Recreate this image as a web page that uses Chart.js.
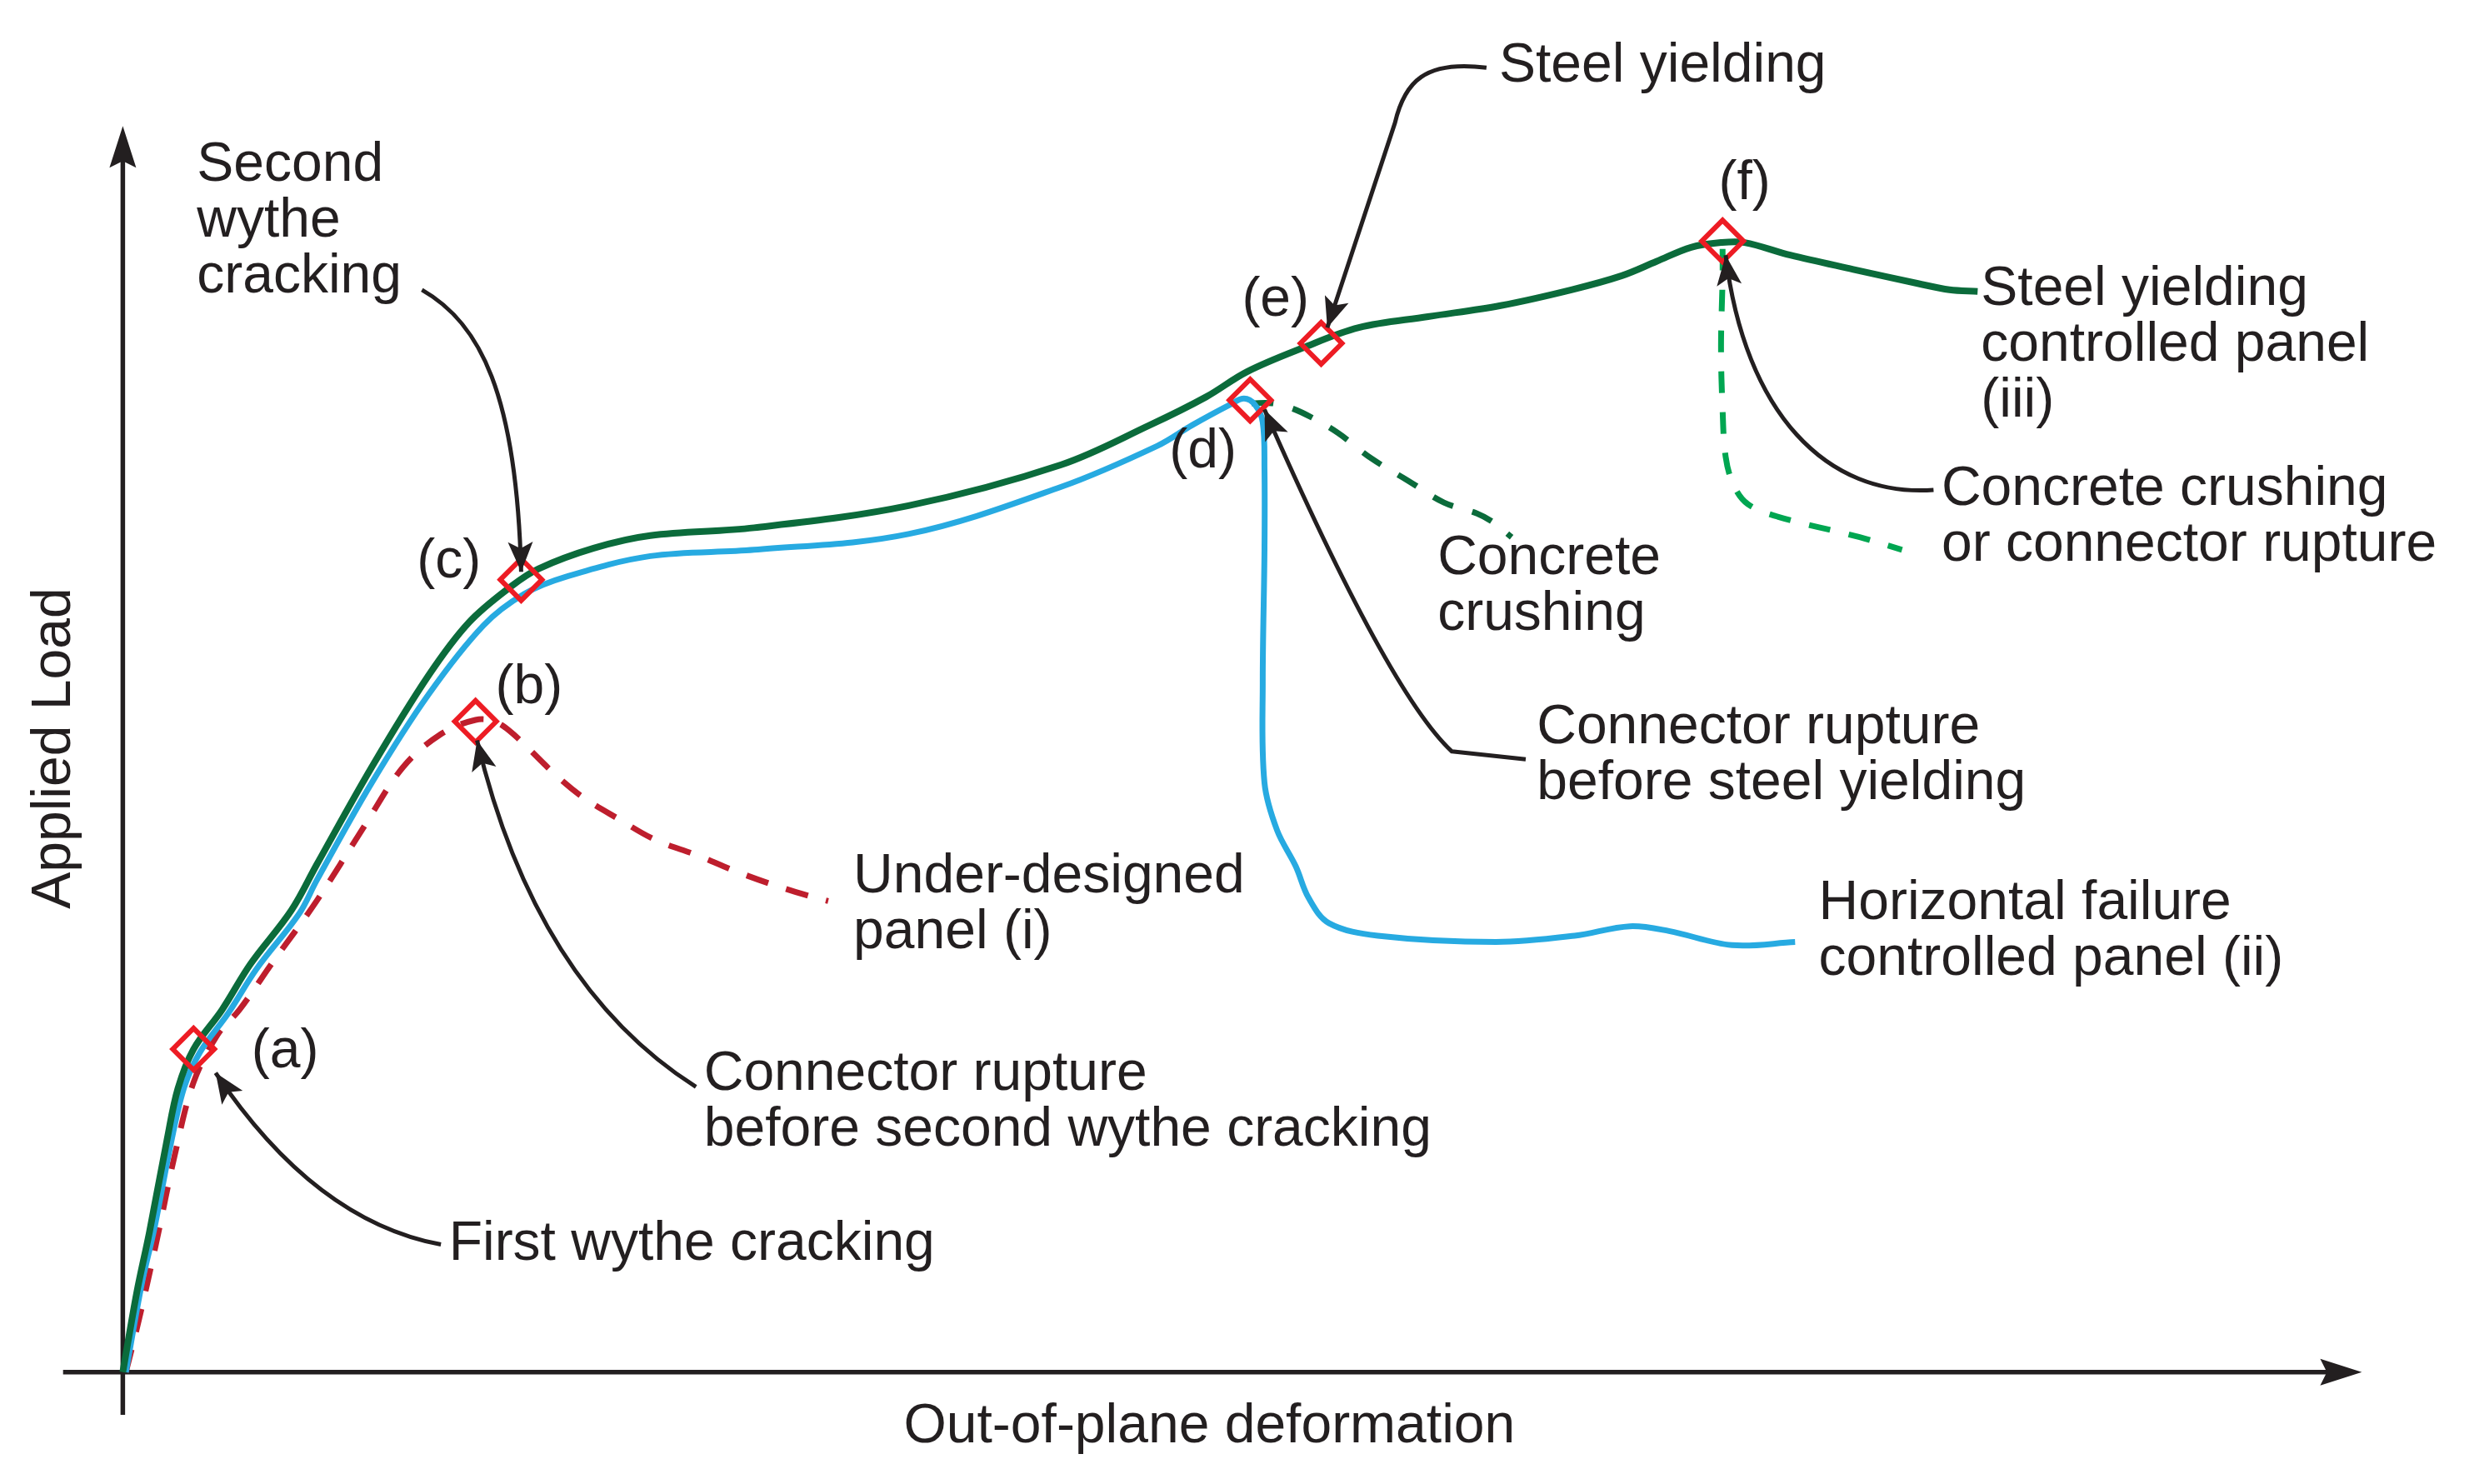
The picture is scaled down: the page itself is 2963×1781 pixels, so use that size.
<!DOCTYPE html>
<html>
<head>
<meta charset="utf-8">
<script src="https://cdn.jsdelivr.net/npm/chart.js@4.4.1/dist/chart.umd.min.js"></script>
<style>
    html, body { margin: 0; padding: 0; background: #ffffff; }
    canvas { display: block; }
</style>
</head>
<body>
<canvas id="chart" width="2963" height="1781"></canvas>
<script>

/* ---------------- Data (deformation, load) in schematic units ---------------- */

const steelYieldingPanel = [
    [0, 0], [0.64, 6.38], [1.21, 11.13], [2.0, 18.38], [2.5, 22.5], [3.21, 25.63],
    [4.5, 28.75], [5.79, 32.38], [7.64, 36.63], [8.79, 40.25], [11.29, 48], [13.86, 55.25],
    [15.71, 59.5], [17.64, 62.38], [18.86, 63.75], [21.36, 65.38], [23.93, 66.38], [28.64, 67],
    [35.64, 68.75], [42.57, 72], [46.57, 75.13], [49.14, 77.38], [51, 79.38], [53.5, 81.25],
    [56.07, 82.88], [59.21, 83.75], [62.5, 84.63], [65.71, 85.88], [68, 87], [69.57, 88.13],
    [71.14, 89.25], [72.5, 89.63], [73.57, 89.63], [75.64, 88.63], [78.5, 87.5], [81.43, 86.38],
    [82.86, 85.88], [84.14, 85.75]
];

const horizontalFailurePanel = [
    [0.14, 0], [0.86, 7], [1.43, 11.38], [2.21, 18.38], [2.79, 22.63], [3.5, 25.38],
    [4.79, 28.5], [6.07, 32], [8, 36.38], [8.79, 39], [11.29, 46.75], [13.86, 53.75],
    [16.36, 59.25], [18.21, 61.75], [20.14, 63.13], [23.93, 64.75], [28.64, 65.25], [35.64, 66.5],
    [42.57, 70.25], [46.93, 73.5], [48.5, 75.13], [50.21, 76.75], [50.86, 77.25], [51.36, 76.75],
    [51.71, 75.38], [51.79, 71.63], [51.79, 65.25], [51.71, 54.75], [51.79, 46.75], [52.36, 43],
    [53.21, 40.13], [53.79, 37.63], [54.71, 35.63], [56.93, 34.63], [62.29, 34.13], [65.86, 34.63],
    [68.36, 35.38], [70.14, 35], [73, 33.88], [75.86, 34.13]
];

const underDesignedPanel = [
    [0.14, 0], [0.71, 4], [1.5, 10.13], [2.36, 17.25], [3.21, 23], [4.29, 26.75],
    [5.29, 28.75], [6.79, 32.5], [8.79, 37.38], [10.93, 43.25], [12.71, 48], [14.43, 50.63],
    [16, 51.75], [16.86, 51.63], [17.71, 50.63], [19.64, 47.38], [20.86, 45.63], [22.5, 43.88],
    [24.14, 42.25], [26.07, 41], [27.79, 39.75], [29.57, 38.63], [31.43, 37.63], [32, 37.38]
];

const concreteCrushing = [
    [51.21, 76.88], [52.14, 76.88], [53, 76.5], [53.93, 75.75], [55.14, 74.5], [56.64, 72.5],
    [58.29, 70.75], [59.93, 69], [61.43, 68.13], [62.21, 67.38], [63, 66.25]
];

const crushingOrRupture = [
    [72.57, 89.13], [72.57, 86.88], [72.5, 81.38], [72.57, 76.38], [72.71, 72.63], [73.07, 70.38],
    [73.71, 68.88], [75.07, 67.88], [78.79, 66.25], [80.71, 65.25]
];

const limitStates = [[3.21, 25.63], [16, 51.63], [18.07, 62.88], [51.14, 77.13], [54.36, 81.63], [72.57, 89.75]];
const limitStateNames = ["(a)", "(b)", "(c)", "(d)", "(e)", "(f)"];
const limitStateNameAt = [[7.36, 25.38], [18.43, 54.25], [14.79, 64.25], [49, 73], [52.29, 85], [73.57, 94.25]];

const xTitle = "Out-of-plane deformation";
const yTitle = "Applied Load";

/* ---------------- Annotations ---------------- */

const callouts = [
    { lines: ["Second", "wythe", "cracking"], at: [3.36, 95.75] },
    { lines: ["Steel yielding"], at: [62.43, 103.63] },
    { lines: ["Steel yielding", "controlled panel", "(iii)"], at: [84.29, 85.88] },
    { lines: ["Concrete crushing", "or connector rupture"], at: [82.5, 70] },
    { lines: ["Concrete", "crushing"], at: [59.64, 64.5] },
    { lines: ["Connector rupture", "before steel yielding"], at: [64.14, 51.13] },
    { lines: ["Under-designed", "panel (i)"], at: [33.14, 39.25] },
    { lines: ["Horizontal failure", "controlled panel (ii)"], at: [76.93, 37.13] },
    { lines: ["Connector rupture", "before second wythe cracking"], at: [26.36, 23.63] },
    { lines: ["First wythe cracking"], at: [14.79, 10.13] }
];

const leaders = [
    [["M", 13.57, 85.88], ["C", 16.21, 83.25, 17.86, 77.63, 18.07, 63.5]],
    [["M", 61.86, 103.5], ["C", 59.07, 104.13, 58.14, 102.38, 57.71, 99.13], ["L", 54.64, 82.88]],
    [["M", 82.14, 70], ["C", 77.29, 69.38, 73.57, 76.13, 72.71, 88.63]],
    [["M", 63.64, 48.63], ["L", 60.29, 49.25], ["Q", 57.43, 53.88, 51.79, 76.38]],
    [["M", 26, 22.63], ["Q", 18.71, 30.75, 16.07, 50.13]],
    [["M", 14.43, 10.13], ["Q", 8.71, 12, 4.21, 23.75]]
];

const xAxisLine = [-2.71, 101.57];
const yAxisLine = [-3.38, 98.88];

const INK = "#231f20";
const FONT = '66px "Liberation Sans", Arial, sans-serif';

/* ---------------- Helpers ---------------- */

const toPoints = rows => rows.map(r => ({ x: r[0], y: r[1] }));

function arrowHead(ctx, tx, ty, fx, fy, len, half, notch) {
    const a = Math.atan2(ty - fy, tx - fx);
    ctx.save();
    ctx.translate(tx, ty);
    ctx.rotate(a);
    ctx.beginPath();
    ctx.moveTo(0, 0);
    ctx.lineTo(-len, -half);
    ctx.lineTo(-len + notch, 0);
    ctx.lineTo(-len, half);
    ctx.closePath();
    ctx.fill();
    ctx.restore();
}

const axesPlugin = {
    id: "schematicAxes",
    beforeDatasetsDraw(chart) {
        const { ctx, scales: { x, y } } = chart;
        const ox = x.getPixelForValue(0);
        const oy = y.getPixelForValue(0);
        const xEnd = x.getPixelForValue(xAxisLine[1]);
        const yEnd = y.getPixelForValue(yAxisLine[1]);

        ctx.save();
        ctx.strokeStyle = INK;
        ctx.fillStyle = INK;
        ctx.lineWidth = 5.5;
        ctx.lineCap = "butt";

        ctx.beginPath();
        ctx.moveTo(x.getPixelForValue(xAxisLine[0]), oy);
        ctx.lineTo(xEnd - 40, oy);
        ctx.moveTo(ox, y.getPixelForValue(yAxisLine[0]));
        ctx.lineTo(ox, yEnd + 40);
        ctx.stroke();

        arrowHead(ctx, xEnd, oy, xEnd - 10, oy, 50, 16, 8);
        arrowHead(ctx, ox, yEnd, ox, yEnd + 10, 50, 16, 8);
        ctx.restore();
    }
};

const annotationPlugin = {
    id: "schematicNotes",
    afterDatasetsDraw(chart) {
        const { ctx, scales: { x, y } } = chart;
        const px = v => x.getPixelForValue(v);
        const py = v => y.getPixelForValue(v);

        ctx.save();
        ctx.strokeStyle = INK;
        ctx.fillStyle = INK;
        ctx.lineWidth = 5;
        ctx.lineCap = "butt";
        ctx.lineJoin = "round";

        // leader lines with arrowheads
        leaders.forEach(path => {
            let prev = null, last = null;
            ctx.beginPath();
            path.forEach(cmd => {
                const p = cmd.slice(1);
                if (cmd[0] === "M") {
                    ctx.moveTo(px(p[0]), py(p[1]));
                    last = p;
                } else if (cmd[0] === "L") {
                    ctx.lineTo(px(p[0]), py(p[1]));
                    prev = last; last = p;
                } else if (cmd[0] === "Q") {
                    ctx.quadraticCurveTo(px(p[0]), py(p[1]), px(p[2]), py(p[3]));
                    prev = [p[0], p[1]]; last = [p[2], p[3]];
                } else if (cmd[0] === "C") {
                    ctx.bezierCurveTo(px(p[0]), py(p[1]), px(p[2]), py(p[3]), px(p[4]), py(p[5]));
                    prev = [p[2], p[3]]; last = [p[4], p[5]];
                }
            });
            ctx.stroke();
            arrowHead(ctx, px(last[0]), py(last[1]), px(prev[0]), py(prev[1]), 36, 15, 8);
        });

        // callout text
        ctx.font = FONT;
        ctx.textBaseline = "middle";
        ctx.textAlign = "left";
        callouts.forEach(c => {
            c.lines.forEach((line, i) => {
                ctx.fillText(line, px(c.at[0]), py(c.at[1]) + i * 67);
            });
        });

        // limit state letters
        ctx.textAlign = "center";
        limitStateNames.forEach((name, i) => {
            ctx.fillText(name, px(limitStateNameAt[i][0]), py(limitStateNameAt[i][1]));
        });

        // axis titles
        ctx.fillText(xTitle, px(49.29), py(-4.38));
        ctx.save();
        ctx.translate(px(-3.07), py(49.5));
        ctx.rotate(-Math.PI / 2);
        ctx.fillText(yTitle, 0, 0);
        ctx.restore();

        ctx.restore();
    }
};

/* ---------------- Chart ---------------- */

const ctx = document.getElementById("chart").getContext("2d");

new Chart(ctx, {
    type: "line",
    data: {
        datasets: [
            {
                label: "Limit states",
                data: toPoints(limitStates),
                showLine: false,
                pointStyle: "rectRot",
                pointRadius: 25,
                pointBorderWidth: 6,
                pointBorderColor: "#ed1c24",
                pointBackgroundColor: "rgba(0,0,0,0)",
                order: 0
            },
            {
                label: "Steel yielding controlled panel (iii)",
                data: toPoints(steelYieldingPanel),
                borderColor: "#0b6b3b",
                borderWidth: 8,
                pointRadius: 0,
                tension: 0.35,
                order: 1
            },
            {
                label: "Horizontal failure controlled panel (ii)",
                data: toPoints(horizontalFailurePanel),
                borderColor: "#27aae1",
                borderWidth: 7,
                pointRadius: 0,
                tension: 0.35,
                order: 2
            },
            {
                label: "Under-designed panel (i)",
                data: toPoints(underDesignedPanel),
                borderColor: "#be1e2d",
                borderWidth: 7,
                borderDash: [28, 22],
                pointRadius: 0,
                tension: 0.35,
                order: 3
            },
            {
                label: "Concrete crushing",
                data: toPoints(concreteCrushing),
                borderColor: "#0b6b3b",
                borderWidth: 7,
                borderDash: [26, 24],
                pointRadius: 0,
                tension: 0.35,
                order: 4
            },
            {
                label: "Concrete crushing or connector rupture",
                data: toPoints(crushingOrRupture),
                borderColor: "#00a651",
                borderWidth: 7,
                borderDash: [26, 23],
                pointRadius: 0,
                tension: 0.35,
                order: 5
            }
        ]
    },
    options: {
        responsive: false,
        animation: false,
        layout: { padding: 0, autoPadding: false },
        plugins: {
            legend: { display: false },
            tooltip: { enabled: false }
        },
        scales: {
            x: { type: "linear", min: -5.571, max: 106.43, display: false },
            y: { type: "linear", min: -8.875, max: 108.875, display: false }
        }
    },
    plugins: [axesPlugin, annotationPlugin]
});

</script>
</body>
</html>
